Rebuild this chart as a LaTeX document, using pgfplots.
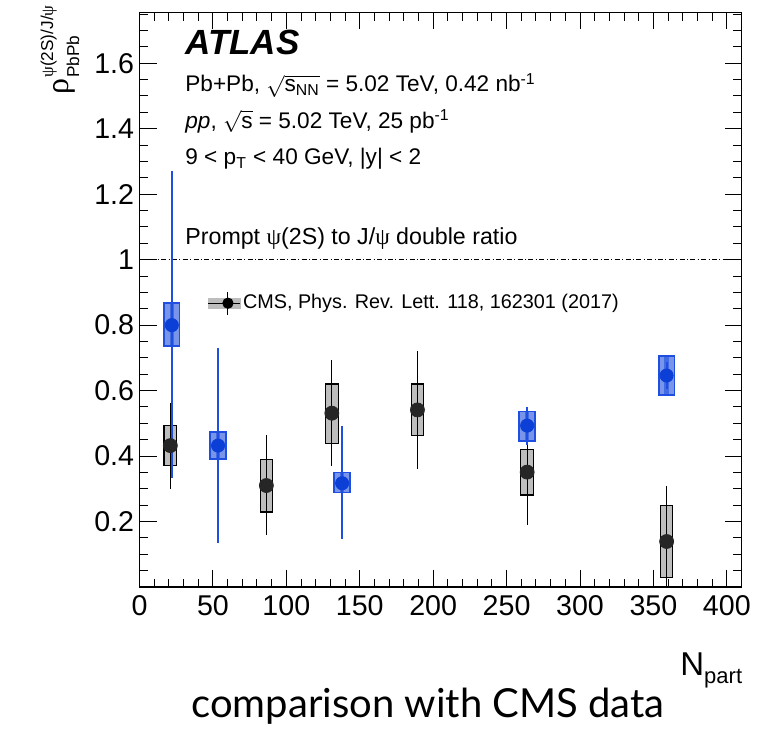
\documentclass[border=0pt]{standalone}
\usepackage{fontspec}
\usepackage{amsmath}
\usepackage{pgfplots}
\usepackage{pgfplotstable}
\pgfplotsset{compat=1.18}
\setmainfont{Liberation Sans}
\newfontfamily\grk{Liberation Serif}
\newfontfamily\gill{Lato}
\definecolor{atlasblue}{HTML}{0B3FD6}
\definecolor{atlasline}{HTML}{1F4FE0}
\definecolor{atlasfill}{HTML}{7895EA}
\definecolor{cmsgray}{HTML}{BDBDBD}
\definecolor{cmsdark}{HTML}{262626}

% CMS: x, y, stat+, stat-
\pgfplotstableread{
x y ep em
21 0.432 0.129 0.132
86.4 0.310 0.153 0.151
131 0.531 0.162 0.161
189.3 0.541 0.181 0.181
264 0.351 0.160 0.161
359 0.139 0.171 0.170
}\cms

% ATLAS: x, y, stat+, stat-, sys+, sys-
\pgfplotstableread{
x y ep em sp sm
22 0.800 0.470 0.467 0.067 0.064
53.5 0.432 0.299 0.298 0.041 0.041
138 0.317 0.176 0.171 0.033 0.028
264 0.493 0.058 0.059 0.043 0.047
359 0.646 0.040 0.040 0.060 0.059
}\atlas

\begin{document}
\begin{tikzpicture}
\path[use as bounding box] (0pt,0pt) rectangle (379pt,364.5pt);
\begin{axis}[
  at={(69.75pt,71pt)}, anchor=south west,
  scale only axis, width=301pt, height=287.25pt,
  xmin=0, xmax=410, ymin=0, ymax=1.755,
  axis line style={line width=0.65pt},
  tick align=inside, xtick pos=both, ytick pos=both,
  major tick length=8.5pt, minor tick length=4.25pt,
  every tick/.style={line width=0.5pt, black},
  xtick={0,50,100,150,200,250,300,350,400},
  xticklabels={0,50,100,150,200,250,300,350,400},
  minor xtick={0,10,...,410},
  ytick={0,0.2,0.4,0.6,0.8,1,1.2,1.4,1.6},
  yticklabels={,0.2,0.4,0.6,0.8,1,1.2,1.4,1.6},
  minor ytick={0.05,0.1,...,1.76},
  ticklabel style={font=\fontsize{14.3}{14.3}\selectfont},
  yticklabel style={inner sep=2.5pt},
  xticklabel style={inner sep=4pt},
  clip=true,
  legend style={at={(axis cs:46,0.867)}, anchor=west, draw=none, fill=none,
    inner sep=0pt, font=\fontsize{9.9}{9.9}\selectfont,
    nodes={inner sep=1.3pt}},
  legend image code/.code={
    \fill[cmsgray] (0pt,-2.5pt) rectangle (16pt,2.5pt);
    \draw[line width=0.5pt, black] (0pt,0pt) -- (16pt,0pt);
    \draw[line width=0.5pt, black] (10pt,-5.8pt) -- (10pt,5.8pt);
    \fill[black] (10pt,0pt) circle (2.6pt);
  },
]
% reference line at 1
\addplot[forget plot, black, line width=0.5pt,
  dash pattern=on 2.5pt off 1.2pt on 0.5pt off 1.2pt] coordinates {(0,1) (410,1)};

% CMS systematic boxes
\addplot[forget plot, draw=black, fill=cmsgray, line width=0.55pt] coordinates {(16.7,0.370) (25.3,0.370) (25.3,0.492) (16.7,0.492)} --cycle;
\addplot[forget plot, draw=black, fill=cmsgray, line width=0.55pt] coordinates {(82.1,0.229) (90.7,0.229) (90.7,0.390) (82.1,0.390)} --cycle;
\addplot[forget plot, draw=black, fill=cmsgray, line width=0.55pt] coordinates {(126.7,0.439) (135.3,0.439) (135.3,0.620) (126.7,0.620)} --cycle;
\addplot[forget plot, draw=black, fill=cmsgray, line width=0.55pt] coordinates {(185.0,0.462) (193.6,0.462) (193.6,0.620) (185.0,0.620)} --cycle;
\addplot[forget plot, draw=black, fill=cmsgray, line width=0.55pt] coordinates {(259.7,0.281) (268.3,0.281) (268.3,0.421) (259.7,0.421)} --cycle;
\addplot[forget plot, draw=black, fill=cmsgray, line width=0.55pt] coordinates {(354.7,0.029) (363.3,0.029) (363.3,0.249) (354.7,0.249)} --cycle;

% CMS points with stat errors
\addplot[only marks, mark=*, mark size=3.5pt, color=cmsdark,
  mark options={fill=cmsdark, draw=cmsdark},
  error bars/.cd, y dir=both, y explicit,
  error bar style={line width=0.5pt, black}, error mark=none]
  table[x=x, y=y, y error plus=ep, y error minus=em] {\cms};
\addlegendentry{CMS, Phys. Rev. Lett. 118, 162301 (2017)}

% ATLAS systematic boxes
\addplot[forget plot, draw=atlasline, fill=atlasfill, line width=0.9pt] coordinates {(16.7,0.736) (27.3,0.736) (27.3,0.867) (16.7,0.867)} --cycle;
\addplot[forget plot, draw=atlasline, fill=atlasfill, line width=0.9pt] coordinates {(48.2,0.391) (58.8,0.391) (58.8,0.473) (48.2,0.473)} --cycle;
\addplot[forget plot, draw=atlasline, fill=atlasfill, line width=0.9pt] coordinates {(132.7,0.289) (143.3,0.289) (143.3,0.350) (132.7,0.350)} --cycle;
\addplot[forget plot, draw=atlasline, fill=atlasfill, line width=0.9pt] coordinates {(258.7,0.446) (269.3,0.446) (269.3,0.536) (258.7,0.536)} --cycle;
\addplot[forget plot, draw=atlasline, fill=atlasfill, line width=0.9pt] coordinates {(353.7,0.587) (364.3,0.587) (364.3,0.706) (353.7,0.706)} --cycle;

% ATLAS box centre stripe
\addplot[forget plot, only marks, mark=none,
  error bars/.cd, y dir=both, y explicit,
  error bar style={line width=2.2pt, atlasline, opacity=0.6}, error mark=none]
  table[x=x, y=y, y error plus=sp, y error minus=sm] {\atlas};

% ATLAS points with stat errors
\addplot[forget plot, only marks, mark=*, mark size=3.3pt, color=atlasblue,
  mark options={fill=atlasblue, draw=atlasblue},
  error bars/.cd, y dir=both, y explicit,
  error bar style={line width=1pt, atlasline}, error mark=none]
  table[x=x, y=y, y error plus=ep, y error minus=em] {\atlas};

\end{axis}

% texts inside frame
\node[anchor=base west, inner sep=0] at (92.5pt,337pt)
  {\fontsize{17.5}{17.5}\selectfont\bfseries\itshape ATLAS};
\node[anchor=base west, inner sep=0] at (92.5pt,318.5pt)
  {\fontsize{11.3}{12}\selectfont Pb+Pb, \smash{$\sqrt{\text{s}_{\text{NN}}}$} = 5.02 TeV, 0.42 nb\smash{$^{\text{-1}}$}};
\node[anchor=base west, inner sep=0] at (92.5pt,300.25pt)
  {\fontsize{11.3}{12}\selectfont \textit{pp}, \smash{$\sqrt{\text{s}}$} = 5.02 TeV, 25 pb\smash{$^{\text{-1}}$}};
\node[anchor=base west, inner sep=0] at (92.5pt,282pt)
  {\fontsize{11.3}{12}\selectfont 9 {\textless} p\smash{$_{\text{T}}$} {\textless} 40 GeV, |y| {\textless} 2};
\node[anchor=base west, inner sep=0] at (92.5pt,242pt)
  {\fontsize{11.6}{12}\selectfont Prompt {\grk ψ}(2S) to J/{\grk ψ} double ratio};

% y axis title
\node[rotate=90, anchor=base east, inner sep=0] at (34pt,362pt)
  {{\grk\fontsize{16}{16}\selectfont ρ}\kern0.6pt\rlap{\raisebox{-5.5pt}{\fontsize{8.6}{9}\selectfont PbPb}}\raisebox{7.5pt}{\fontsize{8.6}{9}\selectfont{\grk ψ}(2S)/J/{\grk ψ}}};

% x axis title
\node[anchor=base west, inner sep=0] at (340pt,27pt)
  {\fontsize{16.5}{17}\selectfont N\raisebox{-4pt}{\fontsize{11}{11}\selectfont part}};

% caption
\node[anchor=base, inner sep=0] at (214pt,6pt)
  {\gill\fontsize{20}{20}\selectfont comparison with CMS data};
\end{tikzpicture}
\end{document}
